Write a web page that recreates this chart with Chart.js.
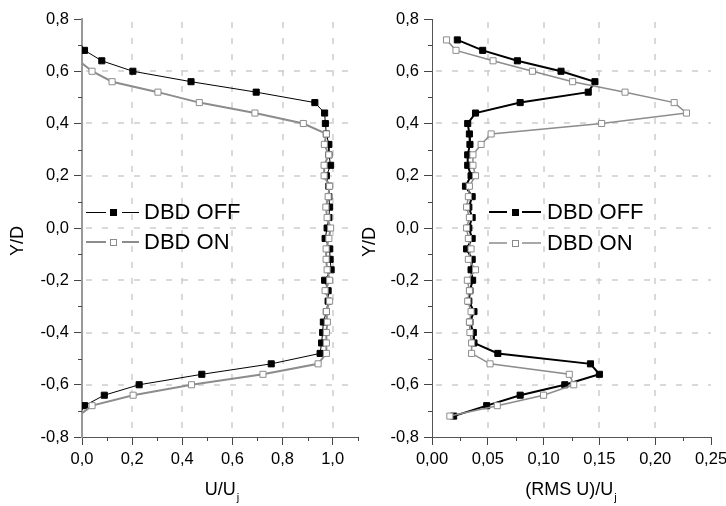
<!DOCTYPE html>
<html>
<head>
<meta charset="utf-8">
<script src="https://cdn.jsdelivr.net/npm/chart.js@4.4.1/dist/chart.umd.min.js"></script>
<style>
  html, body { margin: 0; padding: 0; background: #fff; }
  #wrap { position: relative; width: 726px; height: 506px; overflow: hidden; }
  .panel { position: absolute; top: 0; height: 506px; }
  #left { left: 0; width: 363px; }
  #right { left: 355px; width: 371px; }
</style>
</head>
<body>
<div id="wrap">
  <div class="panel" id="left"><canvas id="chart-u"></canvas></div>
  <div class="panel" id="right"><canvas id="chart-rms"></canvas></div>
</div>
<script>
// Y/D positions of the measurement stations
const yPos = [0.72, 0.68, 0.64, 0.60, 0.56, 0.52, 0.48, 0.44, 0.40, 0.36, 0.32, 0.28, 0.24,
  0.20, 0.16, 0.12, 0.08, 0.04, 0.00, -0.04, -0.08, -0.12, -0.16, -0.20, -0.24, -0.28,
  -0.32, -0.36, -0.40, -0.44, -0.48, -0.52, -0.56, -0.60, -0.64, -0.68, -0.72];
const yPosOn = [0.64, 0.60, 0.56, 0.52, 0.48, 0.44, 0.40, 0.36, 0.32, 0.28, 0.24,
  0.20, 0.16, 0.12, 0.08, 0.04, 0.00, -0.04, -0.08, -0.12, -0.16, -0.20, -0.24, -0.28,
  -0.32, -0.36, -0.40, -0.44, -0.48, -0.52, -0.56, -0.60, -0.64, -0.68, -0.72];

// mean velocity U/Uj
const uOff = [-0.015, 0.01, 0.079, 0.203, 0.435, 0.695, 0.929, 0.968, 0.971, 0.975, 0.985, 0.985,
  0.992, 0.975, 0.985, 0.985, 0.988, 0.985, 0.978, 0.970, 0.988, 0.990, 0.994, 0.968, 0.982,
  0.982, 0.975, 0.963, 0.960, 0.956, 0.950, 0.755, 0.478, 0.228, 0.089, 0.010, -0.015];
const uOn = [-0.012, 0.04, 0.12, 0.303, 0.468, 0.69, 0.883, 0.975, 0.967, 0.985, 0.966, 0.966,
  0.988, 0.982, 0.973, 0.978, 0.992, 0.985, 0.974, 0.974, 0.978, 0.988, 0.970, 0.988, 0.975,
  0.979, 0.975, 0.975, 0.975, 0.942, 0.722, 0.437, 0.204, 0.04, -0.015];

// turbulence (RMS U)/Uj
const rmsOff = [0.0227, 0.0454, 0.0765, 0.1156, 0.146, 0.140, 0.079, 0.039, 0.032, 0.0335, 0.034,
  0.032, 0.032, 0.035, 0.030, 0.036, 0.033, 0.036, 0.033, 0.036, 0.031, 0.036, 0.035, 0.0364,
  0.034, 0.033, 0.0376, 0.034, 0.037, 0.0376, 0.059, 0.142, 0.150, 0.119, 0.079, 0.049, 0.0194];
const rmsOn = [0.013, 0.0215, 0.0547, 0.090, 0.126, 0.173, 0.217, 0.228, 0.152, 0.053, 0.044,
  0.0367, 0.0367, 0.039, 0.0335, 0.0326, 0.031, 0.0335, 0.031, 0.0326, 0.035, 0.0326, 0.039,
  0.0317, 0.0335, 0.032, 0.035, 0.0335, 0.034, 0.0355, 0.0355, 0.052, 0.123, 0.127, 0.100,
  0.0585, 0.016];

const seriesNames = ['DBD OFF', 'DBD ON'];
const yRange = [-0.8, 0.8];
const yStep = 0.2;
const uRange = [0, 1.1];
const uStep = 0.2;
const rmsRange = [0, 0.25];
const rmsStep = 0.05;

const FONT = '"Liberation Sans", Arial, sans-serif';
const GRAY = '#8c8c8c';
const GRID = '#cdcdcd';

function fmt(v, decimals) {
    return (Math.round(v * 1000) / 1000).toFixed(decimals).replace('.', ',');
}

// dashed grid, minor ticks, axis titles with subscript, and Origin-style legend
const decorPlugin = {
    id: 'decor',
    beforeDatasetsDraw(chart) {
        const ctx = chart.ctx;
        const area = chart.chartArea;
        const xs = chart.scales.x;
        const ys = chart.scales.y;
        ctx.save();
        ctx.strokeStyle = GRID;
        ctx.lineWidth = 1.5;
        ctx.setLineDash([6, 10]);
        ctx.beginPath();
        xs.ticks.forEach(t => {
            if (t.value <= xs.min + 1e-9 || t.value >= xs.max - 1e-9) return;
            const px = Math.round(xs.getPixelForValue(t.value));
            ctx.moveTo(px, area.top + 3);
            ctx.lineTo(px, area.bottom);
        });
        ys.ticks.forEach(t => {
            if (t.value <= ys.min + 1e-9 || t.value >= ys.max - 1e-9) return;
            const py = Math.round(ys.getPixelForValue(t.value));
            ctx.moveTo(area.left + 4, py);
            ctx.lineTo(area.right, py);
        });
        ctx.stroke();
        ctx.restore();
    },
    afterDraw(chart, args, opts) {
        const ctx = chart.ctx;
        const area = chart.chartArea;
        const xs = chart.scales.x;
        const ys = chart.scales.y;
        ctx.save();

        ctx.strokeStyle = '#444';
        ctx.lineWidth = 1;
        ctx.beginPath();
        for (let k = 1; ; k += 2) {
            const v = xs.min + k * opts.xMinor;
            if (v > xs.max + 1e-9) break;
            const px = Math.round(xs.getPixelForValue(v)) + 0.5;
            ctx.moveTo(px, area.bottom);
            ctx.lineTo(px, area.bottom + 4);
        }
        for (let k = 1; ; k += 2) {
            const v = ys.min + k * opts.yMinor;
            if (v > ys.max + 1e-9) break;
            const py = Math.round(ys.getPixelForValue(v)) + 0.5;
            ctx.moveTo(area.left, py);
            ctx.lineTo(area.left - 4, py);
        }
        ctx.stroke();

        // x title with subscript j
        ctx.fillStyle = '#000';
        ctx.textAlign = 'left';
        ctx.textBaseline = 'alphabetic';
        ctx.font = '18px ' + FONT;
        const w1 = ctx.measureText(opts.xTitle).width;
        ctx.font = '11px ' + FONT;
        const w2 = ctx.measureText('j').width;
        const x0 = opts.xTitleX - (w1 + w2 + 1) / 2;
        ctx.font = '18px ' + FONT;
        ctx.fillText(opts.xTitle, x0, opts.xTitleY);
        ctx.font = '11px ' + FONT;
        ctx.fillText('j', x0 + w1 + 1, opts.xTitleY + 6);

        // y title
        ctx.save();
        ctx.translate(opts.yTitleX, opts.yTitleY);
        ctx.rotate(-Math.PI / 2);
        ctx.font = '18px ' + FONT;
        ctx.textAlign = 'center';
        ctx.textBaseline = 'middle';
        ctx.fillText('Y/D', 0, 0);
        ctx.restore();

        // legend
        opts.legend.forEach((row, i) => {
            const ds = chart.data.datasets[i];
            const lw = ds.borderWidth;
            const ly = lw % 2 === 1 ? row.y + 0.5 : row.y;
            ctx.strokeStyle = ds.borderColor;
            ctx.lineWidth = lw;
            ctx.beginPath();
            ctx.moveTo(row.x1, ly);
            ctx.lineTo(row.x2, ly);
            ctx.moveTo(row.x3, ly);
            ctx.lineTo(row.x4, ly);
            ctx.stroke();
            const s = 6;
            const mx = Math.round(row.xm - s / 2) + 0.5;
            const my = Math.round(row.y - s / 2) + 0.5;
            ctx.fillStyle = ds.pointBackgroundColor;
            ctx.fillRect(mx, my, s, s);
            ctx.strokeStyle = ds.pointBorderColor;
            ctx.lineWidth = 1;
            ctx.strokeRect(mx, my, s, s);
            ctx.fillStyle = '#000';
            ctx.font = '22px ' + FONT;
            ctx.textAlign = 'left';
            ctx.textBaseline = 'middle';
            ctx.fillText(seriesNames[i], row.xt, row.y + 1);
        });
        ctx.restore();
    }
};

function makeChart(canvasId, cfg) {
    const ctx = document.getElementById(canvasId).getContext('2d');
    const tickFont = { family: FONT, size: 16.5 };
    return new Chart(ctx, {
        type: 'scatter',
        data: {
            datasets: [
                {
                    label: seriesNames[0],
                    data: cfg.offY.map((y, i) => ({ x: cfg.offX[i], y: y })),
                    showLine: true,
                    borderColor: '#000',
                    borderWidth: cfg.offWidth,
                    pointStyle: 'rect',
                    pointRadius: 4.3,
                    pointBackgroundColor: '#000',
                    pointBorderColor: '#000',
                    pointBorderWidth: 1,
                    order: 1
                },
                {
                    label: seriesNames[1],
                    data: cfg.onY.map((y, i) => ({ x: cfg.onX[i], y: y })),
                    showLine: true,
                    borderColor: GRAY,
                    borderWidth: cfg.onWidth,
                    pointStyle: 'rect',
                    pointRadius: 4.3,
                    pointBackgroundColor: '#fff',
                    pointBorderColor: GRAY,
                    pointBorderWidth: 1,
                    order: 0
                }
            ]
        },
        options: {
            responsive: true,
            maintainAspectRatio: false,
            animation: false,
            layout: { padding: cfg.padding },
            plugins: {
                legend: { display: false },
                tooltip: { enabled: false },
                decor: cfg.decor
            },
            scales: {
                x: {
                    type: 'linear',
                    min: cfg.xRange[0],
                    max: cfg.xRange[1],
                    afterFit: s => { s.height = 69; s.paddingLeft = 0; s.paddingRight = 0; },
                    border: { display: true, color: '#555', width: 1 },
                    grid: {
                        drawOnChartArea: false,
                        tickColor: '#444',
                        tickLength: 8
                    },
                    ticks: {
                        stepSize: cfg.xStep,
                        includeBounds: false,
                        autoSkip: false,
                        maxRotation: 0,
                        padding: 5,
                        color: '#000',
                        font: tickFont,
                        callback: v => fmt(v, cfg.xDecimals)
                    }
                },
                y: {
                    type: 'linear',
                    min: yRange[0],
                    max: yRange[1],
                    afterFit: s => { s.width = cfg.yWidth; s.paddingTop = 0; s.paddingBottom = 0; },
                    border: { display: true, color: cfg.yAxisColor, width: cfg.yAxisWidth },
                    grid: {
                        drawOnChartArea: false,
                        tickColor: '#444',
                        tickLength: 8
                    },
                    ticks: {
                        stepSize: yStep,
                        autoSkip: false,
                        padding: 5,
                        color: '#000',
                        font: tickFont,
                        callback: v => fmt(v, 1)
                    }
                }
            }
        },
        plugins: [decorPlugin]
    });
}

let charts = {};

charts.u = makeChart('chart-u', {
    offX: uOff, offY: yPos, onX: uOn, onY: yPosOn,
    offWidth: 1, onWidth: 2,
    xRange: uRange, xStep: uStep, xDecimals: 1,
    yWidth: 82, yAxisColor: '#999', yAxisWidth: 2,
    padding: { top: 19, right: 3, left: 0, bottom: 0 },
    decor: {
        xMinor: 0.1, yMinor: 0.1,
        xTitle: 'U/U', xTitleX: 222, xTitleY: 495,
        yTitleX: 18, yTitleY: 241,
        legend: [
            { y: 212, x1: 86, x2: 106, xm: 113, x3: 122, x4: 139, xt: 144 },
            { y: 242, x1: 86, x2: 106, xm: 113, x3: 122, x4: 139, xt: 144 }
        ]
    }
});

charts.rms = makeChart('chart-rms', {
    offX: rmsOff, offY: yPos, onX: rmsOn, onY: yPos,
    offWidth: 2, onWidth: 1.5,
    xRange: rmsRange, xStep: rmsStep, xDecimals: 2,
    yWidth: 77, yAxisColor: '#555', yAxisWidth: 1,
    padding: { top: 19, right: 15, left: 0, bottom: 0 },
    decor: {
        xMinor: 0.025, yMinor: 0.1,
        xTitle: '(RMS U)/U', xTitleX: 216, xTitleY: 495,
        yTitleX: 15, yTitleY: 242,
        legend: [
            { y: 212, x1: 134, x2: 152, xm: 160, x3: 167, x4: 186, xt: 192 },
            { y: 243, x1: 134, x2: 152, xm: 160, x3: 167, x4: 186, xt: 192 }
        ]
    }
});
</script>
</body>
</html>
